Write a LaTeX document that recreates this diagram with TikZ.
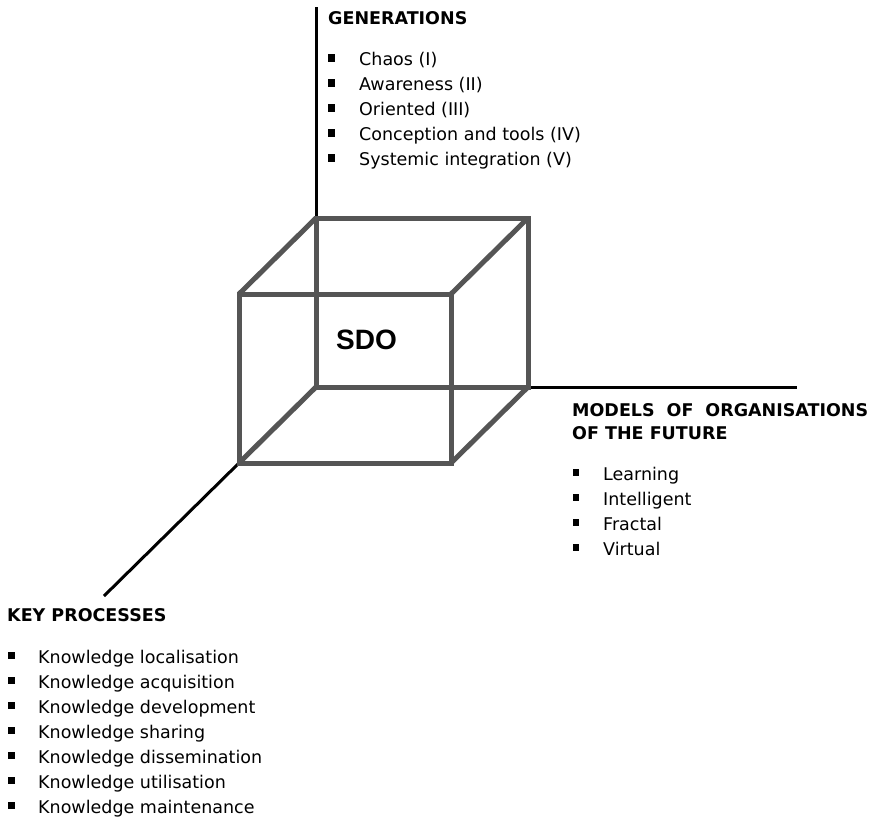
\documentclass[tikz,border=0pt]{standalone}
\usepackage{fontspec}
\setmainfont{DejaVu Sans}
\newfontfamily\sdofont{Liberation Sans}
\begin{document}
\begin{tikzpicture}[x=1pt,y=-1pt,
  axis/.style={line width=3pt,black},
  cube/.style={line width=5pt,draw={rgb,255:red,85;green,85;blue,85},line join=miter},
  head/.style={anchor=base west,inner sep=0pt,font=\fontsize{17.5}{20}\selectfont\bfseries},
  item/.style={anchor=base west,inner sep=0pt,font=\fontsize{17.5}{20}\selectfont},
  bullet/.style={fill=black,inner sep=0pt,minimum width=6.5pt,minimum height=7.5pt}]
\useasboundingbox (0,0) rectangle (872,819);
% cube corners
\coordinate (btl) at (316,218);
\coordinate (btr) at (528,218);
\coordinate (bbl) at (316,387);
\coordinate (bbr) at (528,387);
\coordinate (ftl) at (239,294);
\coordinate (ftr) at (451,294);
\coordinate (fbl) at (239,463);
\coordinate (fbr) at (451,463);
% axis ends
\coordinate (vtop) at (316,7);
\coordinate (hend) at (797,387);
\coordinate (dend) at (104,596);
\draw[axis] (btl) -- (vtop);
\draw[axis] (bbr) -- (hend);
\draw[axis] (fbl) -- (dend);
% cube
\draw[cube] (btl) -- (btr) -- (bbr) -- (bbl) -- cycle;
\draw[cube] (ftl) -- (ftr) -- (fbr) -- (fbl) -- cycle;
\draw[cube] (ftl) -- (btl);
\draw[cube] (ftr) -- (btr);
\draw[cube] (fbl) -- (bbl);
\draw[cube] (fbr) -- (bbr);
\node[anchor=base west,inner sep=0pt,font=\sdofont\fontsize{28}{32}\selectfont\bfseries] (sdo) at (336,349) {SDO};
% generations
\node[head] (gen) at (328,24.5) {GENERATIONS};
\foreach \t [count=\i from 0] in {Chaos (I),Awareness (II),Oriented (III),Conception and tools (IV),Systemic integration (V)}{
  \node[item] (g\i) at (359,65.5+25*\i) {\t};
  \node[bullet] (gb\i) at (331.5,58+25*\i) {};
}
% models
\node[head] (mod1) at (572,416) {\makebox[296pt][s]{MODELS OF ORGANISATIONS}};
\node[head] (mod2) at (572,439) {OF THE FUTURE};
\foreach \t [count=\i from 0] in {Learning,Intelligent,Fractal,Virtual}{
  \node[item] (m\i) at (603,480+25*\i) {\t};
  \node[bullet] (mb\i) at (576,472.5+25*\i) {};
}
% key processes
\node[head] (key) at (7,621.5) {KEY PROCESSES};
\foreach \t [count=\i from 0] in {Knowledge localisation,Knowledge acquisition,Knowledge development,Knowledge sharing,Knowledge dissemination,Knowledge utilisation,Knowledge maintenance}{
  \node[item] (k\i) at (38,663+25*\i) {\t};
  \node[bullet] (kb\i) at (11.5,655.5+25*\i) {};
}
\end{tikzpicture}
\end{document}
